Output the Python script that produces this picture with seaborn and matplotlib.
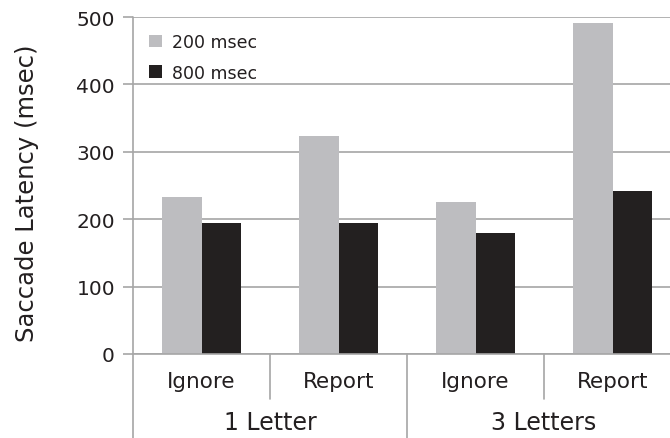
import numpy as np
import pandas as pd
import matplotlib
matplotlib.use("Agg")
import matplotlib.pyplot as plt
import matplotlib.transforms as mtransforms
import seaborn as sns

# data
conditions = ["1 Letter Ignore", "1 Letter Report", "3 Letters Ignore", "3 Letters Report"]
task_labels = ["Ignore", "Report", "Ignore", "Report"]
group_labels = ["1 Letter", "3 Letters"]
delays = ["200 msec", "800 msec"]
lat_200 = [233, 323, 225, 491]
lat_800 = [194, 194, 180, 242]

df = pd.DataFrame({
    "cond": conditions * 2,
    "delay": [delays[0]] * 4 + [delays[1]] * 4,
    "latency": lat_200 + lat_800,
})

sns.set_style("white")
plt.rcParams["font.family"] = ["DejaVu Sans"]

fig = plt.figure(figsize=(6.7, 4.39), dpi=100)
ax = fig.add_axes([133 / 670, 84 / 439, 548 / 670, 337 / 439])

grid_c = "#a6a6a6"
txt_c = "#231f20"
sns.barplot(data=df, x="cond", y="latency", hue="delay", order=conditions,
            palette=["#bcbdc0", "#231f20"], width=0.58, gap=0, linewidth=0,
            errorbar=None, ax=ax, zorder=3)

ax.set_xlim(-0.5, 3.5)
ax.set_ylim(0, 500)
ax.set_yticks(np.arange(0, 501, 100))
ax.yaxis.grid(True, color=grid_c, linewidth=1.2, zorder=0)
ax.set_axisbelow(True)
for s in ["top", "right", "bottom", "left"]:
    ax.spines[s].set_visible(False)
ax.tick_params(axis="y", direction="out", length=7, width=1.2, color=grid_c,
               labelsize=14.5, pad=6, left=True, labelcolor=txt_c)
ax.tick_params(axis="x", length=0, labelsize=15.5, pad=12, labelcolor=txt_c)
ax.set_xticks(range(4))
ax.set_xticklabels(task_labels)
ax.set_xlabel("")
ax.set_ylabel("Saccade Latency (msec)", fontsize=17.5, color=txt_c)
ax.yaxis.set_label_coords(-0.172, 0.48)

# axis lines and category separators below the plot
trans = mtransforms.blended_transform_factory(ax.transData, ax.transAxes)
ax.plot([-0.5, 3.5], [0, 0], transform=trans, color=grid_c, lw=1.2, clip_on=False, zorder=4)
ax.plot([-0.5, -0.5], [-0.26, 1.0], transform=trans, color=grid_c, lw=1.2, clip_on=False)
for xs in [0.5, 2.5]:
    ax.plot([xs, xs], [0, -0.134], transform=trans, color=grid_c, lw=1.2, clip_on=False)
for xs in [1.5, 3.5]:
    ax.plot([xs, xs], [0, -0.26], transform=trans, color=grid_c, lw=1.2, clip_on=False)
for i, g in enumerate(group_labels):
    ax.text(2 * i + 0.5, -0.202, g, transform=trans, ha="center", va="center",
            fontsize=17, color=txt_c)

ax.legend(loc="upper left", bbox_to_anchor=(0.0, 1.0), frameon=False, fontsize=12.5,
          handlelength=0.7, handleheight=0.7, handletextpad=0.6, labelspacing=0.7,
          borderaxespad=0.55, labelcolor=txt_c)

fig.savefig("out.png", dpi=100)
